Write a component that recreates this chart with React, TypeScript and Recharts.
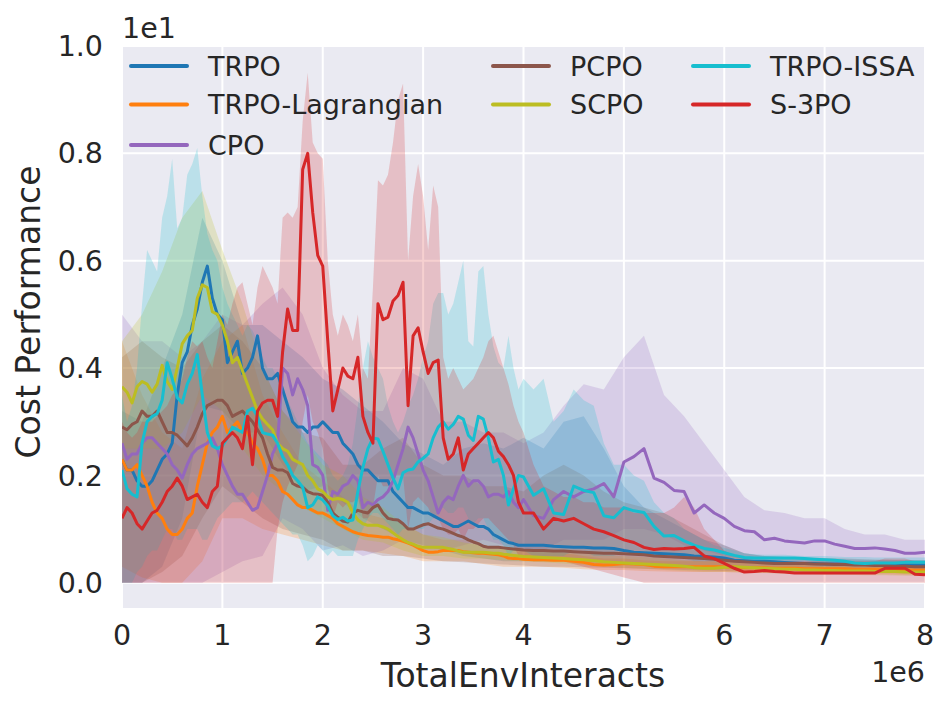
import React from 'react';
import { ComposedChart, Line, Area, XAxis, YAxis, CartesianGrid, Legend } from 'recharts';

// sample positions (x in units of 1e6 interactions)
const xsEarly = Array.from({ length: 81 }, (_, i) => i * 0.05); // 0 .. 4
const xsLate = Array.from({ length: 40 }, (_, i) => 4.1 + i * 0.1); // 4.1 .. 8
const xs = [...xsEarly, ...xsLate];
const bandXs = Array.from({ length: 41 }, (_, i) => i * 0.2);

const xTicks = [0, 1, 2, 3, 4, 5, 6, 7, 8];
const yTicks = [0, 0.2, 0.4, 0.6, 0.8, 1.0];

// mean curves (units of 1e1)
const trpoEarly = [
  0.23, 0.21, 0.21, 0.19, 0.18, 0.18, 0.19, 0.21, 0.23, 0.24,
  0.26, 0.35, 0.41, 0.43, 0.48, 0.51, 0.56, 0.59, 0.53, 0.5,
  0.49, 0.41, 0.43, 0.45, 0.39, 0.4, 0.42, 0.46, 0.4, 0.38,
  0.38, 0.39, 0.36, 0.33, 0.3, 0.29, 0.29, 0.28, 0.29, 0.29,
  0.3, 0.29, 0.28, 0.28, 0.26, 0.25, 0.24, 0.22, 0.21, 0.21,
  0.2, 0.19, 0.19, 0.19, 0.17, 0.16, 0.15, 0.14, 0.14, 0.135,
  0.13, 0.13, 0.125, 0.12, 0.115, 0.11, 0.105, 0.105, 0.11, 0.115,
  0.11, 0.105, 0.105, 0.1, 0.09, 0.085, 0.08, 0.075, 0.073, 0.07,
  0.07,
];
const trpoLate = [
  0.07, 0.07, 0.068, 0.067, 0.066, 0.066, 0.065, 0.065, 0.064, 0.06,
  0.057, 0.056, 0.055, 0.054, 0.053, 0.052, 0.05, 0.049, 0.048, 0.046,
  0.042, 0.041, 0.04, 0.04, 0.039, 0.038, 0.037, 0.036, 0.036, 0.035,
  0.035, 0.035, 0.034, 0.034, 0.034, 0.033, 0.033, 0.033, 0.033, 0.033,
];

const lagEarly = [
  0.23, 0.21, 0.21, 0.22, 0.2, 0.18, 0.15, 0.13, 0.12, 0.1,
  0.09, 0.09, 0.1, 0.12, 0.13, 0.18, 0.22, 0.26, 0.28, 0.29,
  0.31, 0.28, 0.29, 0.3, 0.28, 0.28, 0.26, 0.25, 0.23, 0.2,
  0.2, 0.19, 0.17, 0.165, 0.155, 0.145, 0.14, 0.14, 0.135, 0.13,
  0.13, 0.125, 0.12, 0.11, 0.105, 0.1, 0.095, 0.092, 0.09, 0.088,
  0.087, 0.086, 0.085, 0.085, 0.082, 0.08, 0.077, 0.074, 0.07, 0.065,
  0.06, 0.057, 0.057, 0.058, 0.06, 0.06, 0.06, 0.06, 0.058, 0.057,
  0.056, 0.055, 0.055, 0.054, 0.053, 0.052, 0.05, 0.046, 0.045, 0.045,
  0.044,
];
const lagLate = [
  0.043, 0.043, 0.042, 0.042, 0.04, 0.038, 0.034, 0.033, 0.034, 0.036,
  0.035, 0.034, 0.031, 0.03, 0.03, 0.03, 0.03, 0.03, 0.03, 0.03,
  0.029, 0.028, 0.028, 0.028, 0.027, 0.027, 0.027, 0.026, 0.026, 0.026,
  0.026, 0.026, 0.025, 0.025, 0.025, 0.025, 0.024, 0.024, 0.024, 0.024,
];

const cpoEarly = [
  0.26, 0.23, 0.24, 0.24, 0.26, 0.27, 0.27, 0.26, 0.25, 0.24,
  0.22, 0.21, 0.195, 0.22, 0.24, 0.25, 0.255, 0.26, 0.27, 0.25,
  0.22, 0.2, 0.18, 0.165, 0.165, 0.15, 0.135, 0.14, 0.17, 0.2,
  0.24, 0.26, 0.4, 0.39, 0.35, 0.38, 0.36, 0.33, 0.22, 0.215,
  0.2, 0.135, 0.17, 0.165, 0.18, 0.185, 0.2, 0.19, 0.14, 0.15,
  0.145, 0.155, 0.16, 0.17, 0.19, 0.22, 0.25, 0.29, 0.27, 0.24,
  0.21, 0.19, 0.16, 0.13, 0.15, 0.16, 0.155, 0.18, 0.2, 0.18,
  0.19, 0.19, 0.18, 0.16, 0.165, 0.165, 0.16, 0.17, 0.15, 0.14,
  0.155,
];
const cpoLate = [
  0.125, 0.12, 0.155, 0.17, 0.16, 0.17, 0.175, 0.185, 0.16, 0.225,
  0.235, 0.25, 0.195, 0.187, 0.172, 0.17, 0.13, 0.145, 0.13, 0.12,
  0.105, 0.097, 0.095, 0.08, 0.083, 0.078, 0.076, 0.074, 0.078, 0.078,
  0.072, 0.068, 0.064, 0.064, 0.065, 0.063, 0.06, 0.055, 0.055, 0.057,
];

const pcpoEarly = [
  0.29, 0.285, 0.295, 0.3, 0.32, 0.31, 0.31, 0.32, 0.3, 0.28,
  0.28, 0.275, 0.265, 0.255, 0.27, 0.29, 0.315, 0.33, 0.335, 0.34,
  0.34, 0.33, 0.31, 0.315, 0.32, 0.31, 0.3, 0.285, 0.27, 0.24,
  0.215, 0.21, 0.21, 0.205, 0.185, 0.18, 0.178, 0.17, 0.166, 0.165,
  0.163, 0.15, 0.13, 0.122, 0.115, 0.113, 0.13, 0.135, 0.132, 0.13,
  0.14, 0.145, 0.13, 0.12, 0.118, 0.117, 0.11, 0.1, 0.1, 0.104,
  0.108, 0.11, 0.106, 0.102, 0.1, 0.096, 0.092, 0.088, 0.085, 0.08,
  0.076, 0.073, 0.068, 0.066, 0.066, 0.066, 0.065, 0.064, 0.063, 0.062,
  0.061,
];
const pcpoLate = [
  0.06, 0.06, 0.059, 0.059, 0.058, 0.057, 0.056, 0.055, 0.055, 0.054,
  0.053, 0.052, 0.05, 0.049, 0.048, 0.047, 0.046, 0.045, 0.044, 0.042,
  0.04, 0.039, 0.038, 0.037, 0.036, 0.036, 0.036, 0.036, 0.035, 0.035,
  0.034, 0.034, 0.033, 0.033, 0.032, 0.032, 0.031, 0.031, 0.03, 0.03,
];

const scpoEarly = [
  0.365, 0.355, 0.335, 0.365, 0.375, 0.37, 0.355, 0.37, 0.405, 0.375,
  0.36, 0.4, 0.445, 0.46, 0.47, 0.53, 0.555, 0.55, 0.505, 0.5,
  0.48, 0.45, 0.41, 0.42, 0.395, 0.37, 0.345, 0.32, 0.305, 0.295,
  0.285, 0.26, 0.25, 0.245, 0.23, 0.225, 0.22, 0.2, 0.19, 0.175,
  0.17, 0.16, 0.155, 0.157, 0.155, 0.15, 0.13, 0.117, 0.11, 0.107,
  0.107, 0.107, 0.104, 0.1, 0.093, 0.086, 0.08, 0.075, 0.072, 0.068,
  0.066, 0.066, 0.066, 0.066, 0.066, 0.064, 0.062, 0.059, 0.057, 0.057,
  0.057, 0.057, 0.057, 0.056, 0.055, 0.055, 0.053, 0.052, 0.051, 0.05,
  0.049,
];
const scpoLate = [
  0.048, 0.047, 0.046, 0.045, 0.044, 0.043, 0.041, 0.039, 0.038, 0.037,
  0.036, 0.035, 0.034, 0.033, 0.032, 0.031, 0.028, 0.027, 0.027, 0.029,
  0.03, 0.029, 0.028, 0.027, 0.026, 0.025, 0.025, 0.024, 0.024, 0.023,
  0.023, 0.022, 0.022, 0.022, 0.021, 0.021, 0.021, 0.02, 0.02, 0.02,
];

const issaEarly = [
  0.21, 0.175, 0.165, 0.16, 0.26, 0.3, 0.31, 0.315, 0.34, 0.41,
  0.38, 0.345, 0.335, 0.37, 0.39, 0.425, 0.35, 0.28, 0.255, 0.25,
  0.255, 0.27, 0.29, 0.285, 0.28, 0.32, 0.325, 0.31, 0.28, 0.277,
  0.275, 0.26, 0.235, 0.22, 0.2, 0.19, 0.178, 0.14, 0.145, 0.16,
  0.154, 0.143, 0.125, 0.118, 0.122, 0.115, 0.117, 0.17, 0.215, 0.25,
  0.27, 0.268, 0.245, 0.22, 0.195, 0.175, 0.205, 0.21, 0.212, 0.225,
  0.232, 0.24, 0.27, 0.29, 0.3, 0.286, 0.295, 0.31, 0.305, 0.275,
  0.265, 0.31, 0.305, 0.27, 0.225, 0.23, 0.2, 0.145, 0.175, 0.2,
  0.197,
];
const issaLate = [
  0.163, 0.175, 0.13, 0.127, 0.18, 0.172, 0.168, 0.125, 0.121, 0.14,
  0.134, 0.131, 0.105, 0.087, 0.088, 0.078, 0.07, 0.064, 0.061, 0.056,
  0.051, 0.047, 0.046, 0.046, 0.046, 0.046, 0.046, 0.045, 0.044, 0.043,
  0.042, 0.04, 0.037, 0.036, 0.037, 0.037, 0.037, 0.038, 0.038, 0.038,
];

const s3poEarly = [
  0.12, 0.14, 0.13, 0.11, 0.1, 0.115, 0.13, 0.135, 0.15, 0.17,
  0.18, 0.195, 0.18, 0.155, 0.16, 0.165, 0.15, 0.14, 0.17, 0.18,
  0.26, 0.27, 0.28, 0.27, 0.25, 0.31, 0.22, 0.32, 0.335, 0.34,
  0.34, 0.31, 0.43, 0.51, 0.47, 0.47, 0.77, 0.8, 0.69, 0.61,
  0.59, 0.45, 0.32, 0.36, 0.4, 0.385, 0.38, 0.42, 0.31, 0.28,
  0.26, 0.52, 0.49, 0.495, 0.525, 0.535, 0.56, 0.33, 0.46, 0.475,
  0.43, 0.39, 0.41, 0.415, 0.27, 0.23, 0.24, 0.27, 0.21, 0.24,
  0.25, 0.26, 0.27, 0.28, 0.27, 0.245, 0.235, 0.22, 0.2, 0.15,
  0.13,
];
const s3poLate = [
  0.13, 0.1, 0.12, 0.115, 0.12, 0.11, 0.1, 0.095, 0.088, 0.08,
  0.075, 0.066, 0.062, 0.064, 0.063, 0.064, 0.066, 0.05, 0.045, 0.036,
  0.027, 0.02, 0.021, 0.023, 0.021, 0.02, 0.018, 0.018, 0.018, 0.018,
  0.018, 0.018, 0.018, 0.018, 0.018, 0.027, 0.027, 0.027, 0.016, 0.015,
];

// spread bands, sampled every 0.2e6
const trpoHi = [
  0.32, 0.3, 0.4, 0.5, 0.68, 0.6, 0.48, 0.48, 0.45, 0.42,
  0.38, 0.36, 0.33, 0.3, 0.26, 0.24, 0.22, 0.25, 0.26, 0.25,
  0.27, 0.25, 0.3, 0.31, 0.25, 0.18, 0.14, 0.12, 0.1, 0.08,
  0.07, 0.055, 0.05, 0.048, 0.046, 0.045, 0.044, 0.043, 0.042, 0.042,
  0.042,
];
const trpoLo = [
  0, 0, 0.03, 0.12, 0.33, 0.32, 0.28, 0.28, 0.22, 0.17,
  0.18, 0.15, 0.12, 0.1, 0.08, 0.07, 0.06, 0.05, 0.045, 0.04,
  0.04, 0.04, 0.04, 0.04, 0.038, 0.036, 0.035, 0.034, 0.033, 0.032,
  0.03, 0.03, 0.029, 0.028, 0.028, 0.027, 0.027, 0.026, 0.026, 0.025,
  0.025,
];
const lagHi = [
  0.45, 0.35, 0.28, 0.25, 0.38, 0.45, 0.48, 0.35, 0.28, 0.22,
  0.19, 0.16, 0.13, 0.12, 0.11, 0.09, 0.08, 0.08, 0.07, 0.065,
  0.06, 0.058, 0.056, 0.05, 0.045, 0.045, 0.042, 0.04, 0.04, 0.04,
  0.04, 0.038, 0.037, 0.036, 0.035, 0.034, 0.033, 0.033, 0.032, 0.032,
  0.032,
];
const lagLo = [
  0.03, 0.01, 0, 0, 0.04, 0.12, 0.12, 0.1, 0.09, 0.08,
  0.07, 0.06, 0.06, 0.055, 0.05, 0.04, 0.04, 0.04, 0.035, 0.03,
  0.03, 0.03, 0.028, 0.025, 0.024, 0.024, 0.022, 0.021, 0.02, 0.02,
  0.02, 0.019, 0.018, 0.018, 0.017, 0.017, 0.016, 0.016, 0.016, 0.015,
  0.015,
];
const cpoHi = [
  0.5, 0.45, 0.45, 0.42, 0.45, 0.5, 0.48, 0.52, 0.55, 0.5,
  0.4, 0.35, 0.32, 0.32, 0.4, 0.38, 0.3, 0.3, 0.28, 0.28,
  0.26, 0.28, 0.33, 0.37, 0.36, 0.42, 0.46, 0.35, 0.31, 0.26,
  0.21, 0.16, 0.135, 0.13, 0.12, 0.12, 0.1, 0.09, 0.09, 0.08,
  0.08,
];
const cpoLo = [
  0, 0, 0, 0, 0, 0.02, 0.04, 0.05, 0.12, 0.1,
  0.06, 0.07, 0.05, 0.06, 0.08, 0.06, 0.06, 0.07, 0.08, 0.07,
  0.06, 0.06, 0.08, 0.08, 0.08, 0.1, 0.1, 0.09, 0.07, 0.06,
  0.05, 0.045, 0.04, 0.04, 0.038, 0.037, 0.036, 0.035, 0.035, 0.034,
  0.034,
];
const pcpoHi = [
  0.42, 0.45, 0.42, 0.4, 0.45, 0.48, 0.45, 0.4, 0.32, 0.28,
  0.27, 0.22, 0.22, 0.25, 0.27, 0.22, 0.2, 0.2, 0.18, 0.18,
  0.17, 0.2, 0.22, 0.2, 0.17, 0.15, 0.14, 0.13, 0.11, 0.09,
  0.07, 0.055, 0.05, 0.048, 0.047, 0.046, 0.045, 0.044, 0.043, 0.042,
  0.042,
];
const pcpoLo = [
  0, 0, 0.02, 0.05, 0.12, 0.18, 0.15, 0.12, 0.1, 0.09,
  0.08, 0.06, 0.06, 0.05, 0.05, 0.045, 0.04, 0.038, 0.036, 0.034,
  0.032, 0.03, 0.03, 0.029, 0.028, 0.027, 0.026, 0.025, 0.024, 0.023,
  0.022, 0.022, 0.021, 0.021, 0.02, 0.02, 0.02, 0.02, 0.019, 0.019,
  0.019,
];
const scpoHi = [
  0.45, 0.5, 0.58, 0.68, 0.73, 0.62, 0.52, 0.4, 0.32, 0.27,
  0.22, 0.2, 0.16, 0.14, 0.11, 0.09, 0.085, 0.075, 0.07, 0.065,
  0.062, 0.06, 0.058, 0.055, 0.052, 0.05, 0.048, 0.045, 0.042, 0.04,
  0.04, 0.038, 0.036, 0.035, 0.034, 0.033, 0.032, 0.031, 0.03, 0.03,
  0.03,
];
const scpoLo = [
  0.25, 0.25, 0.25, 0.28, 0.35, 0.32, 0.25, 0.2, 0.17, 0.14,
  0.12, 0.1, 0.08, 0.075, 0.06, 0.05, 0.05, 0.045, 0.045, 0.042,
  0.04, 0.038, 0.036, 0.033, 0.03, 0.028, 0.026, 0.024, 0.022, 0.02,
  0.02, 0.019, 0.018, 0.017, 0.016, 0.015, 0.015, 0.014, 0.014, 0.013,
  0.013,
];

// the two spikiest bands are sampled on the same grid as the curves
const issaHiEarly = [
  0.35, 0.3, 0.33, 0.4, 0.52, 0.62, 0.6, 0.58, 0.68, 0.72,
  0.79, 0.66, 0.68, 0.76, 0.78, 0.81, 0.72, 0.65, 0.62, 0.6,
  0.55, 0.52, 0.5, 0.48, 0.46, 0.48, 0.47, 0.45, 0.42, 0.4,
  0.4, 0.38, 0.36, 0.34, 0.32, 0.3, 0.28, 0.26, 0.25, 0.24,
  0.23, 0.22, 0.2, 0.19, 0.2, 0.22, 0.26, 0.33, 0.4, 0.45,
  0.42, 0.4, 0.38, 0.33, 0.3, 0.28, 0.3, 0.33, 0.35, 0.38,
  0.42, 0.45, 0.52, 0.54, 0.54, 0.5, 0.52, 0.56, 0.6, 0.45,
  0.44, 0.58, 0.59, 0.5, 0.44, 0.41, 0.4, 0.46, 0.4, 0.36,
  0.38,
];
const issaHiLate = [
  0.36, 0.38, 0.3, 0.32, 0.36, 0.34, 0.33, 0.26, 0.22, 0.22,
  0.2, 0.19, 0.15, 0.13, 0.12, 0.1, 0.09, 0.08, 0.07, 0.065,
  0.06, 0.055, 0.053, 0.052, 0.052, 0.052, 0.051, 0.05, 0.05, 0.05,
  0.049, 0.048, 0.048, 0.048, 0.047, 0.047, 0.047, 0.047, 0.047, 0.047,
];
const issaLoEarly = [
  0, 0, 0, 0.02, 0.03, 0.05, 0.06, 0.06, 0.08, 0.1,
  0.1, 0.08, 0.08, 0.1, 0.1, 0.1, 0.08, 0.08, 0.1, 0.12,
  0.13, 0.14, 0.15, 0.15, 0.15, 0.16, 0.17, 0.16, 0.15, 0.14,
  0.13, 0.12, 0.11, 0.1, 0.09, 0.09, 0.07, 0.04, 0.05, 0.07,
  0.06, 0.05, 0.06, 0.05, 0.05, 0.05, 0.05, 0.08, 0.1, 0.12,
  0.13, 0.13, 0.12, 0.11, 0.1, 0.09, 0.1, 0.1, 0.1, 0.1,
  0.1, 0.11, 0.12, 0.13, 0.14, 0.13, 0.13, 0.14, 0.14, 0.12,
  0.11, 0.12, 0.12, 0.1, 0.08, 0.08, 0.07, 0.05, 0.06, 0.06,
  0.06,
];
const issaLoLate = [
  0.05, 0.05, 0.05, 0.05, 0.06, 0.06, 0.05, 0.05, 0.05, 0.06,
  0.06, 0.06, 0.05, 0.05, 0.045, 0.045, 0.04, 0.04, 0.04, 0.04,
  0.04, 0.04, 0.04, 0.04, 0.04, 0.04, 0.04, 0.04, 0.038, 0.038,
  0.036, 0.035, 0.033, 0.032, 0.03, 0.03, 0.03, 0.03, 0.03, 0.03,
];
const s3poHiEarly = [
  0.3, 0.28, 0.27, 0.28, 0.3, 0.3, 0.3, 0.31, 0.32, 0.33,
  0.35, 0.36, 0.38, 0.42, 0.45, 0.44, 0.45, 0.42, 0.4, 0.45,
  0.5, 0.48, 0.52, 0.55, 0.56, 0.52, 0.48, 0.55, 0.59, 0.57,
  0.55, 0.52, 0.68, 0.69, 0.68, 0.7, 0.86, 0.95, 0.82, 0.8,
  0.79, 0.6, 0.5, 0.46, 0.5, 0.48, 0.45, 0.5, 0.4, 0.38,
  0.55, 0.75, 0.74, 0.76, 0.82, 0.9, 0.93, 0.6, 0.72, 0.78,
  0.72, 0.62, 0.74, 0.7, 0.42, 0.38, 0.4, 0.38, 0.36, 0.37,
  0.38, 0.4, 0.42, 0.45, 0.46, 0.43, 0.4, 0.37, 0.33, 0.3,
  0.28,
];
const s3poHiLate = [
  0.22, 0.18, 0.17, 0.16, 0.16, 0.15, 0.15, 0.14, 0.14, 0.14,
  0.13, 0.13, 0.13, 0.13, 0.14, 0.16, 0.14, 0.1, 0.08, 0.06,
  0.05, 0.045, 0.042, 0.04, 0.04, 0.04, 0.04, 0.04, 0.04, 0.04,
  0.04, 0.04, 0.04, 0.04, 0.04, 0.045, 0.045, 0.045, 0.04, 0.04,
];
const s3poLoEarly = [
  0, 0, 0, 0, 0, 0, 0, 0, 0, 0,
  0, 0, 0, 0, 0, 0, 0, 0, 0, 0,
  0, 0, 0, 0, 0, 0, 0, 0, 0, 0,
  0, 0.1, 0.15, 0.18, 0.2, 0.22, 0.3, 0.35, 0.3, 0.28,
  0.25, 0.18, 0.12, 0.15, 0.14, 0.15, 0.15, 0.16, 0.12, 0.12,
  0.14, 0.2, 0.18, 0.18, 0.2, 0.2, 0.2, 0.1, 0.15, 0.16,
  0.15, 0.14, 0.12, 0.12, 0.1, 0.09, 0.09, 0.1, 0.08, 0.1,
  0.1, 0.11, 0.12, 0.12, 0.11, 0.1, 0.09, 0.08, 0.07, 0.05,
  0.05,
];
const s3poLoLate = [
  0.04, 0.04, 0.04, 0.04, 0.035, 0.03, 0.025, 0.02, 0.015, 0.01,
  0.005, 0, 0, 0, 0, 0, 0, 0, 0, 0,
  0, 0, 0, 0, 0, 0, 0, 0, 0, 0,
  0, 0, 0, 0, 0, 0, 0, 0, 0, 0,
];

const series = [
  { name: 'TRPO', color: '#1f77b4', mean: [...trpoEarly, ...trpoLate], bx: bandXs, lo: trpoLo, hi: trpoHi },
  { name: 'TRPO-Lagrangian', color: '#ff7f0e', mean: [...lagEarly, ...lagLate], bx: bandXs, lo: lagLo, hi: lagHi },
  { name: 'CPO', color: '#9467bd', mean: [...cpoEarly, ...cpoLate], bx: bandXs, lo: cpoLo, hi: cpoHi },
  { name: 'PCPO', color: '#8c564b', mean: [...pcpoEarly, ...pcpoLate], bx: bandXs, lo: pcpoLo, hi: pcpoHi },
  { name: 'SCPO', color: '#bcbd22', mean: [...scpoEarly, ...scpoLate], bx: bandXs, lo: scpoLo, hi: scpoHi },
  { name: 'TRPO-ISSA', color: '#17becf', mean: [...issaEarly, ...issaLate], bx: xs, lo: [...issaLoEarly, ...issaLoLate], hi: [...issaHiEarly, ...issaHiLate] },
  { name: 'S-3PO', color: '#d62728', mean: [...s3poEarly, ...s3poLate], bx: xs, lo: [...s3poLoEarly, ...s3poLoLate], hi: [...s3poHiEarly, ...s3poHiLate] },
];

const FONT = 'DejaVu Sans';
const INK = '#262626';

// legend slots: handle start x per column, row centre y
const legendCols = [9, 371, 571];
const legendRows = [20, 58.5, 99];
const legendSlots = [[0, 0], [0, 1], [0, 2], [1, 0], [1, 1], [2, 0], [2, 1]];

const renderLegend = () => (
  <svg width={803} height={130} style={{ display: 'block' }}>
    {series.map((s, i) => {
      const [c, r] = legendSlots[i];
      const x0 = legendCols[c];
      const y = legendRows[r];
      return (
        <g key={s.name}>
          <line x1={x0} x2={x0 + 56} y1={y} y2={y} stroke={s.color} strokeWidth={4} strokeLinecap="round" />
          <text x={x0 + 77} y={y + 9.5} fontSize={27} fontFamily={FONT} fill={INK}>{s.name}</text>
        </g>
      );
    })}
  </svg>
);

export default function App() {
  return (
    <div style={{ position: 'absolute', left: 0, top: 0, width: 951, height: 709, background: '#fff' }}>
      <ComposedChart width={951} height={709} margin={{ top: 46, right: 26, bottom: 61, left: 0 }}>
        <CartesianGrid fill="#eaeaf2" stroke="#ffffff" strokeWidth={2} horizontalValues={yTicks} verticalValues={xTicks} />
        <XAxis
          dataKey="x"
          type="number"
          domain={[0, 8]}
          ticks={xTicks}
          allowDataOverflow
          height={40}
          tickLine={false}
          axisLine={false}
          tickSize={0}
          tickMargin={17}
          tick={{ fontSize: 28.5, fill: INK, fontFamily: FONT }}
        />
        <YAxis
          type="number"
          domain={[-0.047, 1.0]}
          ticks={yTicks}
          allowDataOverflow
          width={122}
          tickLine={false}
          axisLine={false}
          tickSize={0}
          tickMargin={19}
          tickFormatter={(v: number) => v.toFixed(1)}
          tick={{ fontSize: 28.5, fill: INK, fontFamily: FONT }}
        />
        {series.map((s) => (
          <Area
            key={s.name + '-band'}
            data={s.bx.map((x, i) => ({ x, band: [s.lo[i], s.hi[i]] }))}
            dataKey="band"
            type="linear"
            stroke="none"
            fill={s.color}
            fillOpacity={0.22}
            legendType="none"
            isAnimationActive={false}
            dot={false}
            activeDot={false}
          />
        ))}
        {series.map((s) => (
          <Line
            key={s.name}
            name={s.name}
            data={xs.map((x, i) => ({ x, y: s.mean[i] }))}
            dataKey="y"
            type="linear"
            stroke={s.color}
            strokeWidth={3}
            strokeLinejoin="round"
            dot={false}
            activeDot={false}
            isAnimationActive={false}
          />
        ))}
        <Legend
          layout="horizontal"
          verticalAlign="middle"
          align="center"
          content={renderLegend}
          wrapperStyle={{ left: 122, top: 46, width: 803, height: 130 }}
        />
      </ComposedChart>
      <svg width={951} height={709} style={{ position: 'absolute', left: 0, top: 0, pointerEvents: 'none' }}>
        <text x={122} y={38} fontSize={28.5} fontFamily={FONT} fill={INK}>1e1</text>
        <text x={925} y={682} fontSize={28.5} fontFamily={FONT} fill={INK} textAnchor="end">1e6</text>
        <text x={523} y={687} fontSize={33} fontFamily={FONT} fill={INK} textAnchor="middle">TotalEnvInteracts</text>
        <text x={0} y={0} transform="translate(40 312) rotate(-90)" fontSize={33} fontFamily={FONT} fill={INK} textAnchor="middle">Cost Performance</text>
      </svg>
    </div>
  );
}
